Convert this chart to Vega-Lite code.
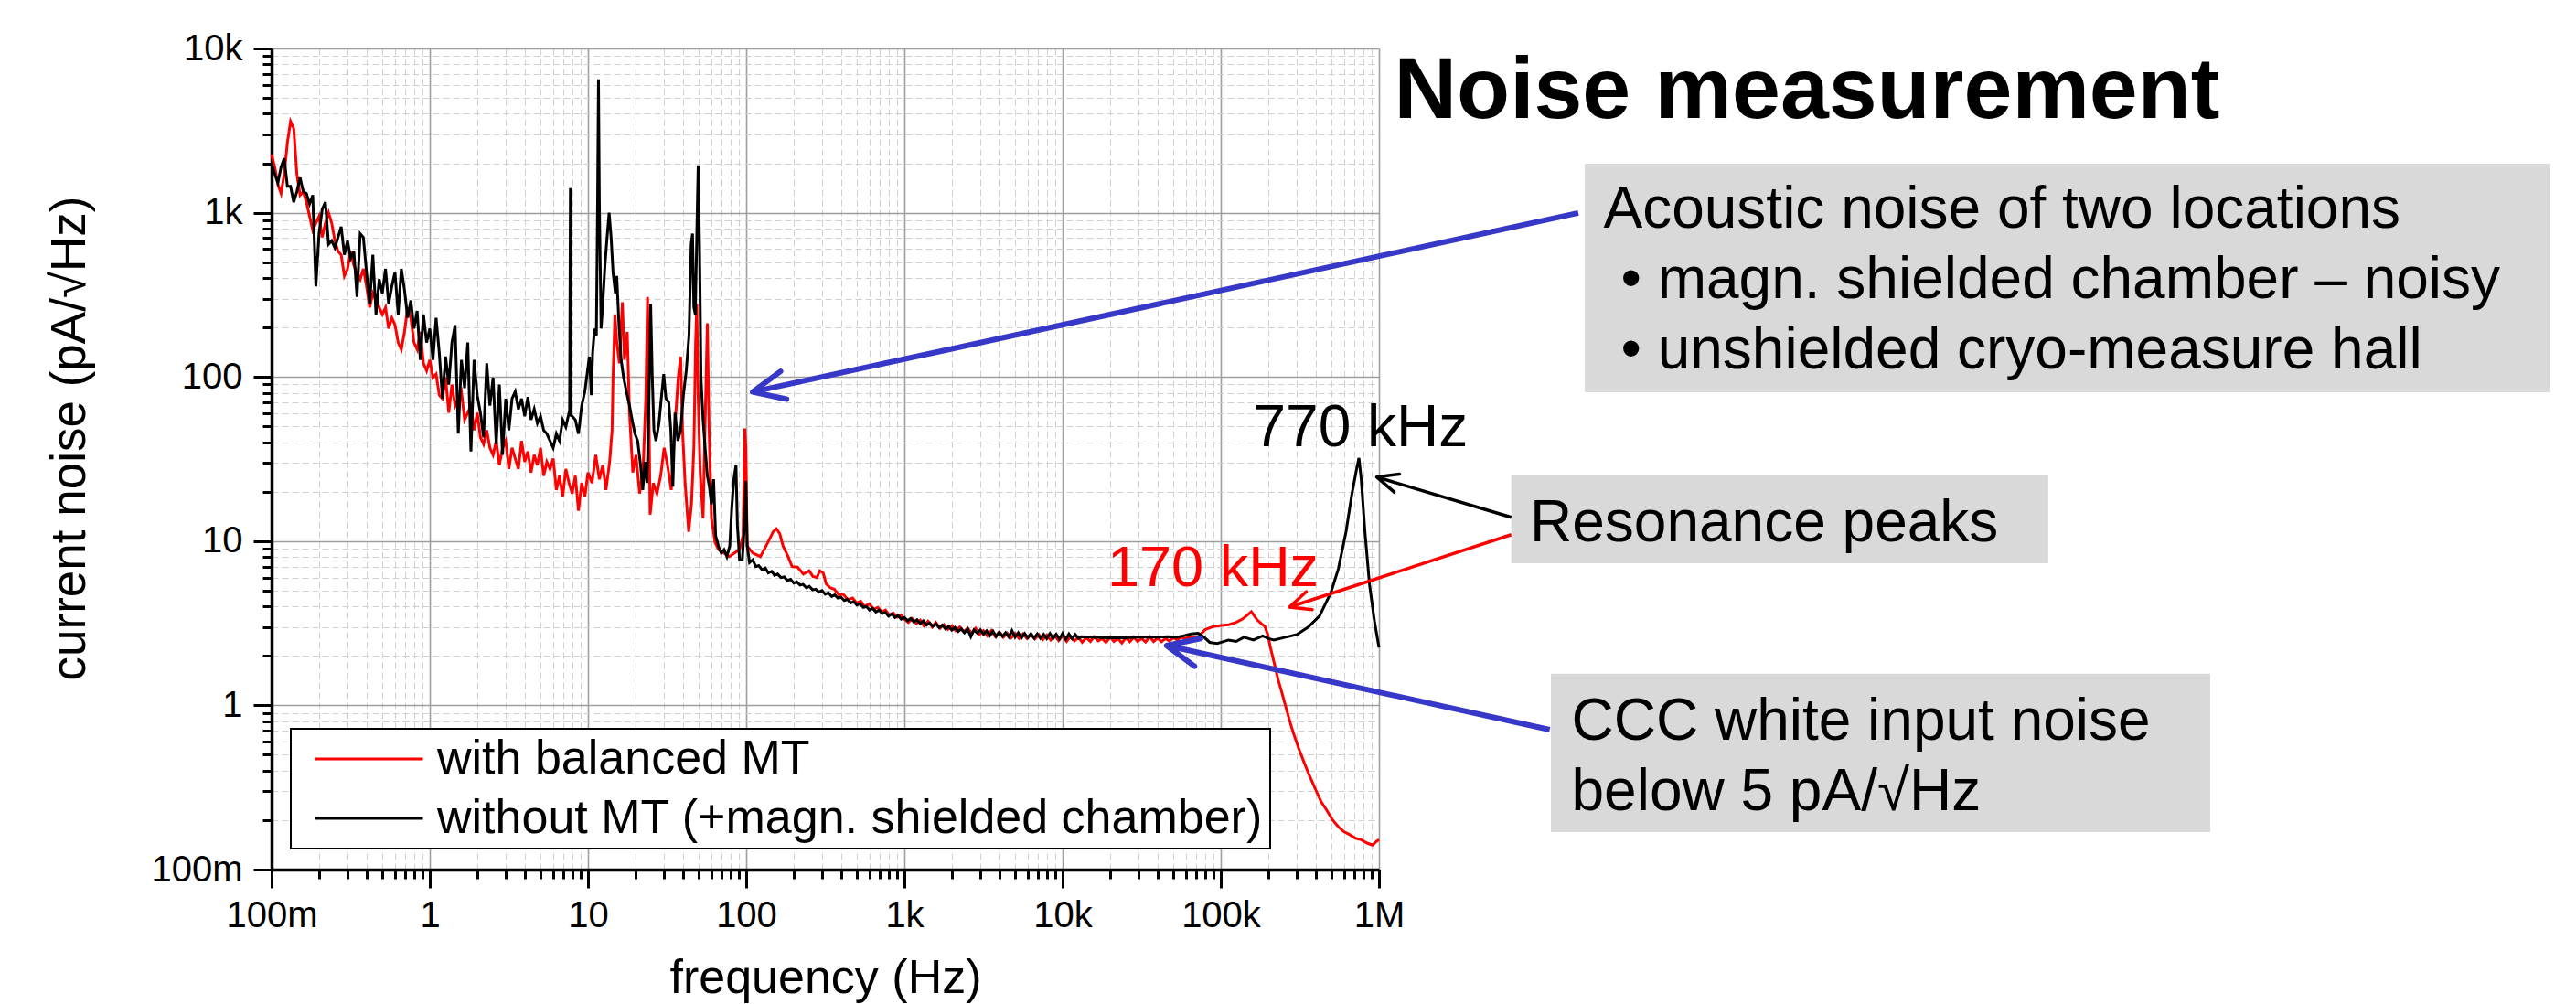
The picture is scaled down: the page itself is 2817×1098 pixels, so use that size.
{
  "$schema": "https://vega.github.io/schema/vega-lite/v6.json",
  "width": 1211,
  "height": 898,
  "autosize": {"type": "none"},
  "padding": {"left": 297, "top": 53, "right": 1309, "bottom": 147},
  "background": "white",
  "config": {"font": "Liberation Sans", "view": {"stroke": null}, "legend": {"strokeWidth": 2}},
  "datasets": {
    "balanced": [
      {"f":0.1,"n":2253},{"f":0.1047,"n":1897},{"f":0.1096,"n":1483},{"f":0.1148,"n":1310},{"f":0.1202,"n":1718},{"f":0.1259,"n":2675},{"f":0.1318,"n":3594},{"f":0.138,"n":3258},{"f":0.1445,"n":1718},{"f":0.1514,"n":1279},{"f":0.1585,"n":1343},{"f":0.166,"n":1159},{"f":0.1738,"n":952},{"f":0.182,"n":782},{"f":0.1905,"n":863},{"f":0.1995,"n":952},{"f":0.2089,"n":708},{"f":0.2188,"n":863},{"f":0.2291,"n":1000},{"f":0.2399,"n":863},{"f":0.2512,"n":675},{"f":0.263,"n":582},{"f":0.2754,"n":554},{"f":0.2884,"n":412},{"f":0.302,"n":455},{"f":0.3162,"n":582},{"f":0.3311,"n":478},{"f":0.3467,"n":433},{"f":0.3631,"n":393},{"f":0.3802,"n":455},{"f":0.3981,"n":356},{"f":0.4169,"n":265},{"f":0.4365,"n":323},{"f":0.4571,"n":292},{"f":0.4786,"n":265},{"f":0.5012,"n":240},{"f":0.5248,"n":265},{"f":0.5495,"n":197},{"f":0.5754,"n":229},{"f":0.6026,"n":207},{"f":0.631,"n":162},{"f":0.6607,"n":147},{"f":0.6918,"n":188},{"f":0.7244,"n":265},{"f":0.7586,"n":229},{"f":0.7943,"n":162},{"f":0.8318,"n":147},{"f":0.871,"n":188},{"f":0.912,"n":121},{"f":0.955,"n":109},{"f":1.0,"n":127},{"f":1.047,"n":99},{"f":1.096,"n":104},{"f":1.148,"n":77.4},{"f":1.202,"n":73.7},{"f":1.259,"n":99},{"f":1.318,"n":60.5},{"f":1.38,"n":89.8},{"f":1.445,"n":66.8},{"f":1.514,"n":73.7},{"f":1.585,"n":81.3},{"f":1.66,"n":54.8},{"f":1.738,"n":60.5},{"f":1.82,"n":66.8},{"f":1.905,"n":47.3},{"f":1.995,"n":60.5},{"f":2.089,"n":42.9},{"f":2.188,"n":38.9},{"f":2.291,"n":47.3},{"f":2.399,"n":37.0},{"f":2.512,"n":33.5},{"f":2.63,"n":40.8},{"f":2.754,"n":29.0},{"f":2.884,"n":37.0},{"f":3.02,"n":40.8},{"f":3.162,"n":27.5},{"f":3.311,"n":37.0},{"f":3.467,"n":31.9},{"f":3.631,"n":27.5},{"f":3.802,"n":40.8},{"f":3.981,"n":30.4},{"f":4.169,"n":35.2},{"f":4.365,"n":26.2},{"f":4.571,"n":33.5},{"f":4.786,"n":29.0},{"f":5.012,"n":37.0},{"f":5.248,"n":25.0},{"f":5.495,"n":30.4},{"f":5.754,"n":27.5},{"f":6.026,"n":31.9},{"f":6.31,"n":20.5},{"f":6.607,"n":25.0},{"f":6.918,"n":18.6},{"f":7.244,"n":27.5},{"f":7.586,"n":22.6},{"f":7.943,"n":19.5},{"f":8.318,"n":25.0},{"f":8.71,"n":15.3},{"f":9.12,"n":22.6},{"f":9.55,"n":18.6},
      {"f":10.0,"n":26.2},{"f":10.6,"n":22.6},{"f":11.2,"n":33.5},{"f":11.8,"n":23.8},{"f":12.4,"n":29.0},{"f":13.0,"n":20.5},{"f":13.7,"n":30.4},{"f":14.2,"n":47.3},{"f":14.4,"n":99},{"f":14.8,"n":240},{"f":15.2,"n":162},{"f":15.8,"n":121},{"f":16.5,"n":285},{"f":17.0,"n":127},{"f":17.7,"n":188},{"f":18.3,"n":60.5},{"f":19.2,"n":26.2},{"f":20.1,"n":33.5},{"f":21.2,"n":19.5},{"f":22.3,"n":27.5},{"f":23.2,"n":73.7},{"f":23.8,"n":307},{"f":24.3,"n":60.5},{"f":24.7,"n":14.5},{"f":25.9,"n":22.6},{"f":27.3,"n":19.5},{"f":28.8,"n":25.0},{"f":30.3,"n":37.0},{"f":31.8,"n":29.0},{"f":33.6,"n":20.5},{"f":35.3,"n":47.3},{"f":37.2,"n":99},{"f":38.5,"n":133},{"f":39.6,"n":47.3},{"f":41.1,"n":22.6},{"f":43.3,"n":11.4},{"f":45.1,"n":16.8},{"f":46.7,"n":37.0},{"f":47.9,"n":162},{"f":48.7,"n":278},{"f":49.7,"n":77.4},{"f":51.2,"n":26.2},{"f":53.4,"n":13.8},{"f":55.2,"n":60.5},{"f":56.8,"n":212},{"f":58.3,"n":47.3},{"f":60.3,"n":13.8},{"f":63.6,"n":9.8},{"f":66.8,"n":8.88},{"f":72.2,"n":8.46},{"f":78.3,"n":8.05},{"f":84.4,"n":8.46},{"f":90.8,"n":8.88},{"f":95.5,"n":10.8},{"f":97.9,"n":48.5},{"f":99.5,"n":37.0},{"f":101.5,"n":9.33},{"f":110,"n":8.46},{"f":123,"n":8.05},{"f":137,"n":9.8},{"f":148,"n":11.4},{"f":155,"n":11.9},{"f":163,"n":11.1},{"f":171,"n":9.33},{"f":184,"n":8.05},{"f":195,"n":7.0},{"f":211,"n":6.95},{"f":230,"n":6.3},{"f":250,"n":6.6},{"f":264,"n":6.1},{"f":280,"n":6.0},{"f":292,"n":6.6},{"f":307,"n":6.4},{"f":320,"n":5.5},{"f":340,"n":5.2},{"f":360,"n":5.1},{"f":386,"n":4.7},{"f":410,"n":4.75},{"f":440,"n":4.4},{"f":470,"n":4.5},{"f":500,"n":4.2},{"f":530,"n":4.3},{"f":560,"n":4.0},{"f":600,"n":4.15},{"f":640,"n":3.85},{"f":680,"n":3.95},{"f":720,"n":3.7},{"f":760,"n":3.8},{"f":800,"n":3.55},{"f":850,"n":3.65},{"f":900,"n":3.45},{"f":950,"n":3.55},{"f":1000,"n":3.35},{"f":1060,"n":3.2},{"f":1120,"n":3.38},{"f":1190,"n":3.15},{"f":1260,"n":3.3},{"f":1330,"n":3.05},{"f":1410,"n":3.25},{"f":1500,"n":3.0},{"f":1580,"n":3.2},{"f":1680,"n":2.95},{"f":1780,"n":3.1},{"f":1880,"n":2.9},{"f":2000,"n":3.05},{"f":2110,"n":2.85},{"f":2240,"n":3.0},{"f":2370,"n":2.8},{"f":2510,"n":2.95},{"f":2660,"n":2.75},{"f":2820,"n":2.95},{"f":2980,"n":2.7},{"f":3160,"n":2.85},{"f":3350,"n":2.65},{"f":3550,"n":2.85},{"f":3760,"n":2.62},{"f":3980,"n":2.8},{"f":4220,"n":2.6},{"f":4470,"n":2.75},{"f":4730,"n":2.58},{"f":5010,"n":2.75},{"f":5310,"n":2.56},{"f":5620,"n":2.72},{"f":5960,"n":2.55},{"f":6310,"n":2.7},{"f":6680,"n":2.54},{"f":7080,"n":2.7},{"f":7500,"n":2.52},{"f":7940,"n":2.68},{"f":8410,"n":2.5},{"f":8910,"n":2.66},{"f":9440,"n":2.48},{"f":10000,"n":2.66},{"f":10600,"n":2.45},{"f":11200,"n":2.62},{"f":11900,"n":2.47},{"f":12600,"n":2.6},{"f":13300,"n":2.42},{"f":14100,"n":2.58},{"f":15000,"n":2.45},{"f":15800,"n":2.62},{"f":16800,"n":2.47},{"f":17800,"n":2.55},{"f":18800,"n":2.42},{"f":20000,"n":2.6},{"f":21100,"n":2.45},{"f":22400,"n":2.55},{"f":23700,"n":2.4},{"f":25100,"n":2.58},{"f":26600,"n":2.44},{"f":28200,"n":2.6},{"f":29800,"n":2.45},{"f":31600,"n":2.55},{"f":33500,"n":2.43},{"f":35500,"n":2.62},{"f":37600,"n":2.45},{"f":39800,"n":2.57},{"f":42200,"n":2.44},{"f":44700,"n":2.55},{"f":47300,"n":2.47},{"f":50100,"n":2.58},{"f":53100,"n":2.5},{"f":56200,"n":2.6},{"f":59600,"n":2.55},{"f":63100,"n":2.62},{"f":66800,"n":2.6},{"f":72000,"n":2.62},{"f":80000,"n":2.9},{"f":90000,"n":3.02},{"f":100000,"n":3.07},{"f":112000,"n":3.1},{"f":125000,"n":3.2},{"f":137000,"n":3.35},{"f":148000,"n":3.56},{"f":156000,"n":3.72},{"f":163000,"n":3.5},{"f":170000,"n":3.31},{"f":180000,"n":3.15},{"f":190000,"n":3.02},{"f":198000,"n":2.7},{"f":206000,"n":2.25},{"f":218000,"n":1.8},{"f":230000,"n":1.44},{"f":243000,"n":1.2},{"f":256000,"n":1.0},{"f":270000,"n":0.83},{"f":286000,"n":0.69},{"f":310000,"n":0.55},{"f":338000,"n":0.443},{"f":365000,"n":0.37},{"f":398000,"n":0.306},{"f":430000,"n":0.26},{"f":470000,"n":0.228},{"f":510000,"n":0.2},{"f":554000,"n":0.182},{"f":600000,"n":0.17},{"f":654000,"n":0.163},{"f":710000,"n":0.155},{"f":772000,"n":0.152},{"f":840000,"n":0.145},{"f":910000,"n":0.141},{"f":960000,"n":0.148},{"f":1000000,"n":0.152}
    ],
    "unshielded": [
      {"f":0.1,"n":1990},{"f":0.1047,"n":1718},{"f":0.1096,"n":1520},{"f":0.1148,"n":1897},{"f":0.1202,"n":2144},{"f":0.1259,"n":1446},{"f":0.1318,"n":1446},{"f":0.138,"n":1159},{"f":0.1445,"n":1343},{"f":0.1514,"n":1636},{"f":0.1585,"n":1343},{"f":0.166,"n":1310},{"f":0.1738,"n":1130},{"f":0.182,"n":1279},{"f":0.1905,"n":356},{"f":0.1995,"n":745},{"f":0.2089,"n":1050},{"f":0.2188,"n":1159},{"f":0.2291,"n":642},{"f":0.2399,"n":675},{"f":0.2512,"n":611},{"f":0.263,"n":708},{"f":0.2754,"n":822},{"f":0.2884,"n":554},{"f":0.302,"n":675},{"f":0.3162,"n":527},{"f":0.3311,"n":582},{"f":0.3467,"n":307},{"f":0.3631,"n":745},{"f":0.3802,"n":708},{"f":0.3981,"n":433},{"f":0.4169,"n":278},{"f":0.4365,"n":554},{"f":0.4571,"n":240},{"f":0.4786,"n":393},{"f":0.5012,"n":323},{"f":0.5248,"n":455},{"f":0.5495,"n":278},{"f":0.5754,"n":356},{"f":0.6026,"n":433},{"f":0.631,"n":240},{"f":0.6607,"n":455},{"f":0.6918,"n":339},{"f":0.7244,"n":229},{"f":0.7586,"n":292},{"f":0.7943,"n":197},{"f":0.8318,"n":252},{"f":0.871,"n":127},{"f":0.912,"n":240},{"f":0.955,"n":162},{"f":1.0,"n":197},{"f":1.047,"n":127},{"f":1.096,"n":229},{"f":1.148,"n":140},{"f":1.202,"n":73.7},{"f":1.259,"n":133},{"f":1.318,"n":89.8},{"f":1.38,"n":162},{"f":1.445,"n":207},{"f":1.514,"n":45.1},{"f":1.585,"n":127},{"f":1.66,"n":85.5},{"f":1.738,"n":162},{"f":1.82,"n":35.2},{"f":1.905,"n":127},{"f":1.995,"n":77.4},{"f":2.089,"n":60.5},{"f":2.188,"n":42.9},{"f":2.291,"n":121},{"f":2.399,"n":66.8},{"f":2.512,"n":99},{"f":2.63,"n":38.9},{"f":2.754,"n":89.8},{"f":2.884,"n":33.5},{"f":3.02,"n":73.7},{"f":3.162,"n":47.3},{"f":3.311,"n":73.7},{"f":3.467,"n":81.3},{"f":3.631,"n":63.6},{"f":3.802,"n":73.7},{"f":3.981,"n":57.6},{"f":4.169,"n":75.5},{"f":4.365,"n":54.8},{"f":4.571,"n":63.6},{"f":4.786,"n":52.2},{"f":5.012,"n":57.6},{"f":5.248,"n":47.3},{"f":5.495,"n":45.1},{"f":5.754,"n":40.8},{"f":6.026,"n":37.0},{"f":6.31,"n":45.1},{"f":6.607,"n":40.8},{"f":6.918,"n":54.8},{"f":7.244,"n":49.7},{"f":7.586,"n":60.5},{"f":7.65,"n":62},{"f":7.74,"n":1413},{"f":7.83,"n":58},{"f":7.943,"n":57.6},{"f":8.318,"n":54.8},{"f":8.71,"n":45.1},{"f":9.12,"n":66.8},{"f":9.55,"n":81.3},
      {"f":10.2,"n":133},{"f":10.5,"n":77.4},{"f":10.7,"n":140},{"f":11.0,"n":197},{"f":11.3,"n":179},{"f":11.5,"n":1159},{"f":11.65,"n":6490},{"f":11.8,"n":1159},{"f":12.1,"n":197},{"f":12.4,"n":278},{"f":12.8,"n":478},{"f":13.2,"n":708},{"f":13.6,"n":1000},{"f":14.0,"n":708},{"f":14.4,"n":433},{"f":14.9,"n":323},{"f":15.2,"n":412},{"f":15.7,"n":207},{"f":16.2,"n":127},{"f":16.8,"n":99},{"f":17.5,"n":81.3},{"f":18.3,"n":66.8},{"f":19.0,"n":54.8},{"f":19.8,"n":45.1},{"f":20.6,"n":40.8},{"f":21.5,"n":29.0},{"f":22.2,"n":20.5},{"f":22.9,"n":30.4},{"f":23.6,"n":22.6},{"f":24.3,"n":73.7},{"f":24.9,"n":278},{"f":25.5,"n":99},{"f":26.1,"n":47.3},{"f":26.9,"n":40.8},{"f":28.1,"n":52.2},{"f":29.2,"n":77.4},{"f":30.1,"n":104},{"f":31.1,"n":73.7},{"f":32.4,"n":70.2},{"f":33.4,"n":47.3},{"f":34.4,"n":21.5},{"f":35.5,"n":60.5},{"f":37.0,"n":40.8},{"f":38.5,"n":47.3},{"f":40.1,"n":77.4},{"f":41.8,"n":109},{"f":43.5,"n":179},{"f":44.9,"n":642},{"f":45.8,"n":745},{"f":46.7,"n":265},{"f":47.7,"n":240},{"f":48.7,"n":708},{"f":49.7,"n":1942},{"f":50.7,"n":642},{"f":51.8,"n":99},{"f":53.4,"n":54.8},{"f":55.0,"n":37.0},{"f":56.8,"n":25.0},{"f":58.5,"n":21.5},{"f":60.3,"n":16.8},{"f":62.2,"n":23.8},{"f":64.1,"n":10.8},{"f":66.8,"n":9.33},{"f":69.6,"n":8.46},{"f":72.5,"n":8.88},{"f":75.5,"n":8.05},{"f":78.7,"n":9.33},{"f":81.1,"n":16.0},{"f":83.6,"n":23.8},{"f":86.2,"n":29.0},{"f":88.0,"n":12.5},{"f":90.8,"n":7.67},{"f":94.5,"n":7.67},{"f":97.5,"n":12.5},{"f":99.5,"n":23.2},{"f":101.5,"n":9.33},{"f":105,"n":7.4},{"f":110,"n":7.7},{"f":115,"n":7.0},{"f":120,"n":7.1},{"f":126,"n":6.7},{"f":132,"n":6.85},{"f":138,"n":6.4},{"f":145,"n":6.55},{"f":151,"n":6.2},{"f":158,"n":6.3},{"f":166,"n":6.0},{"f":174,"n":6.05},{"f":182,"n":5.75},{"f":191,"n":5.85},{"f":200,"n":5.55},{"f":209,"n":5.65},{"f":219,"n":5.4},{"f":229,"n":5.45},{"f":240,"n":5.2},{"f":251,"n":5.3},{"f":263,"n":5.05},{"f":275,"n":5.1},{"f":288,"n":4.9},{"f":302,"n":5.0},{"f":316,"n":4.75},{"f":331,"n":4.85},{"f":347,"n":4.6},{"f":363,"n":4.7},{"f":380,"n":4.5},{"f":398,"n":4.55},{"f":417,"n":4.35},{"f":437,"n":4.42},{"f":457,"n":4.2},{"f":479,"n":4.28},{"f":501,"n":4.08},{"f":525,"n":4.15},{"f":550,"n":3.95},{"f":575,"n":4.0},{"f":603,"n":3.8},{"f":631,"n":3.9},{"f":661,"n":3.7},{"f":692,"n":3.8},{"f":724,"n":3.62},{"f":759,"n":3.68},{"f":794,"n":3.5},{"f":832,"n":3.6},{"f":871,"n":3.43},{"f":912,"n":3.52},{"f":955,"n":3.35},{"f":1000,"n":3.43},{"f":1047,"n":3.28},{"f":1096,"n":3.38},{"f":1148,"n":3.22},{"f":1202,"n":3.32},{"f":1259,"n":3.14},{"f":1318,"n":3.27},{"f":1380,"n":3.08},{"f":1445,"n":3.18},{"f":1514,"n":3.03},{"f":1585,"n":3.13},{"f":1660,"n":2.97},{"f":1738,"n":3.08},{"f":1820,"n":2.92},{"f":1905,"n":3.03},{"f":1995,"n":2.87},{"f":2089,"n":2.98},{"f":2188,"n":2.82},{"f":2291,"n":2.93},{"f":2399,"n":2.77},{"f":2512,"n":2.92},{"f":2630,"n":2.62},{"f":2754,"n":2.88},{"f":2884,"n":2.76},{"f":3020,"n":2.88},{"f":3162,"n":2.71},{"f":3311,"n":2.84},{"f":3467,"n":2.66},{"f":3631,"n":2.83},{"f":3802,"n":2.63},{"f":3981,"n":2.79},{"f":4169,"n":2.63},{"f":4365,"n":2.77},{"f":4571,"n":2.61},{"f":4786,"n":2.85},{"f":5012,"n":2.6},{"f":5248,"n":2.77},{"f":5495,"n":2.58},{"f":5754,"n":2.74},{"f":6026,"n":2.58},{"f":6310,"n":2.73},{"f":6607,"n":2.57},{"f":6918,"n":2.72},{"f":7244,"n":2.56},{"f":7586,"n":2.71},{"f":7943,"n":2.55},{"f":8318,"n":2.74},{"f":8710,"n":2.55},{"f":9120,"n":2.71},{"f":9550,"n":2.54},{"f":10000,"n":2.74},{"f":10470,"n":2.53},{"f":10960,"n":2.72},{"f":11480,"n":2.55},{"f":12020,"n":2.7},{"f":12590,"n":2.56},{"f":13180,"n":2.62},{"f":15000,"n":2.6},{"f":20000,"n":2.58},{"f":25000,"n":2.58},{"f":30000,"n":2.6},{"f":35000,"n":2.6},{"f":40000,"n":2.6},{"f":46000,"n":2.62},{"f":52000,"n":2.6},{"f":58000,"n":2.65},{"f":65000,"n":2.72},{"f":72000,"n":2.75},{"f":78500,"n":2.6},{"f":85000,"n":2.42},{"f":95000,"n":2.38},{"f":112000,"n":2.5},{"f":125000,"n":2.45},{"f":140000,"n":2.6},{"f":161000,"n":2.5},{"f":184000,"n":2.65},{"f":200000,"n":2.55},{"f":217000,"n":2.5},{"f":256000,"n":2.6},{"f":303000,"n":2.7},{"f":357000,"n":3.0},{"f":421000,"n":3.5},{"f":497000,"n":4.87},{"f":554000,"n":6.8},{"f":619000,"n":11.4},{"f":673000,"n":19.2},{"f":723000,"n":27.7},{"f":747000,"n":32.1},{"f":772000,"n":23.9},{"f":815000,"n":11.4},{"f":871000,"n":5.45},{"f":936000,"n":3.26},{"f":1000000,"n":2.25}
    ]
  },
  "layer": [
    {
      "data": {"name": "balanced"},
      "mark": {"type": "line", "strokeWidth": 3},
      "encoding": {
        "x": {
          "field": "f", "type": "quantitative",
          "scale": {"type": "log", "domain": [0.1, 1000000], "nice": false},
          "axis": {
            "values": [0.1,0.2,0.3,0.4,0.5,0.6,0.7,0.8,0.9,1,2,3,4,5,6,7,8,9,10,20,30,40,50,60,70,80,90,100,200,300,400,500,600,700,800,900,1000,2000,3000,4000,5000,6000,7000,8000,9000,10000,20000,30000,40000,50000,60000,70000,80000,90000,100000,200000,300000,400000,500000,600000,700000,800000,900000,1000000],
            "labelExpr": "abs(log(datum.value)/LN10 - round(log(datum.value)/LN10)) < 0.01 ? format(datum.value, '~s') : ''",
            "title": "frequency (Hz)",
            "titleFontSize": 52, "titleFontWeight": "normal", "titleColor": "black",
            "titleBaseline": "alphabetic", "titleY": 134,
            "labelFontSize": 40, "labelColor": "black", "labelPadding": 10,
            "labelFlush": false, "labelOverlap": false, "labelBound": false,
            "tickSize": {"condition": {"test": "abs(log(datum.value)/LN10 - round(log(datum.value)/LN10)) < 0.01", "value": 20}, "value": 10},
            "tickWidth": 3, "tickColor": "black",
            "domainColor": "black", "domainWidth": 3.5,
            "grid": true,
            "gridColor": {"condition": {"test": "abs(log(datum.value)/LN10 - round(log(datum.value)/LN10)) < 0.01", "value": "#9e9e9e"}, "value": "#d0d0d0"},
            "gridDash": {"condition": {"test": "abs(log(datum.value)/LN10 - round(log(datum.value)/LN10)) < 0.01", "value": []}, "value": [7, 4]},
            "gridWidth": {"condition": {"test": "abs(log(datum.value)/LN10 - round(log(datum.value)/LN10)) < 0.01", "value": 1.6}, "value": 1}
          }
        },
        "y": {
          "field": "n", "type": "quantitative",
          "scale": {"type": "log", "domain": [0.1, 10000], "nice": false},
          "axis": {
            "values": [0.1,0.2,0.3,0.4,0.5,0.6,0.7,0.8,0.9,1,2,3,4,5,6,7,8,9,10,20,30,40,50,60,70,80,90,100,200,300,400,500,600,700,800,900,1000,2000,3000,4000,5000,6000,7000,8000,9000,10000],
            "labelExpr": "abs(log(datum.value)/LN10 - round(log(datum.value)/LN10)) < 0.01 ? format(datum.value, '~s') : ''",
            "title": "current noise (pA/√Hz)",
            "titleFontSize": 53, "titleFontWeight": "normal", "titleColor": "black",
            "titleBaseline": "alphabetic", "titleAngle": -90, "titleAlign": "center",
            "titleX": -205, "titleY": 426,
            "labelFontSize": 40, "labelColor": "black", "labelPadding": 12,
            "labelFlush": false, "labelOverlap": false, "labelBound": false,
            "tickSize": {"condition": {"test": "abs(log(datum.value)/LN10 - round(log(datum.value)/LN10)) < 0.01", "value": 20}, "value": 10},
            "tickWidth": 3, "tickColor": "black",
            "domainColor": "black", "domainWidth": 3.5,
            "grid": true,
            "gridColor": {"condition": {"test": "abs(log(datum.value)/LN10 - round(log(datum.value)/LN10)) < 0.01", "value": "#9e9e9e"}, "value": "#d0d0d0"},
            "gridDash": {"condition": {"test": "abs(log(datum.value)/LN10 - round(log(datum.value)/LN10)) < 0.01", "value": []}, "value": [7, 4]},
            "gridWidth": {"condition": {"test": "abs(log(datum.value)/LN10 - round(log(datum.value)/LN10)) < 0.01", "value": 1.6}, "value": 1}
          }
        },
        "color": {
          "datum": "with balanced MT", "type": "nominal",
          "scale": {"domain": ["with balanced MT", "without MT (+magn. shielded chamber)"], "range": ["#ff0000", "#000000"]},
          "legend": {"orient": "none", "legendX": 21, "legendY": 744, "title": null, "direction": "vertical",
            "labelFontSize": 52, "labelColor": "black", "labelLimit": 3000, "labelOffset": 98,
            "symbolType": "M-0.31,0H4.23", "symbolSize": 2704, "symbolStrokeWidth": 3,
            "clipHeight": 52, "rowPadding": 13, "padding": 7,
            "fillColor": "white", "strokeColor": "black"}
        }
      }
    },
    {
      "data": {"name": "unshielded"},
      "mark": {"type": "line", "strokeWidth": 3},
      "encoding": {
        "x": {"field": "f", "type": "quantitative", "title": "frequency (Hz)", "scale": {"type": "log", "domain": [0.1, 1000000], "nice": false}},
        "y": {"field": "n", "type": "quantitative", "title": "current noise (pA/√Hz)", "scale": {"type": "log", "domain": [0.1, 10000], "nice": false}},
        "color": {
          "datum": "without MT (+magn. shielded chamber)", "type": "nominal",
          "scale": {"domain": ["with balanced MT", "without MT (+magn. shielded chamber)"], "range": ["#ff0000", "#000000"]}
        }
      }
    },
    {
      "data": {"values": [{}]},
      "mark": {"type": "rect", "color": "#d9d9d9"},
      "encoding": {"x": {"datum": 20000000}, "x2": {"datum": 25400000000000}, "y": {"datum": 1988}, "y2": {"datum": 80.6}}
    },
    {
      "data": {"values": [{}]},
      "mark": {"type": "rect", "color": "#d9d9d9"},
      "encoding": {"x": {"datum": 6862000}, "x2": {"datum": 17000000000}, "y": {"datum": 25.1}, "y2": {"datum": 7.335}}
    },
    {
      "data": {"values": [{}]},
      "mark": {"type": "rect", "color": "#d9d9d9"},
      "encoding": {"x": {"datum": 12210000}, "x2": {"datum": 179600000000}, "y": {"datum": 1.56}, "y2": {"datum": 0.1692}}
    },
    {
      "data": {"values": [{}]},
      "mark": {"type": "text", "text": "Noise measurement", "fontSize": 95, "fontWeight": "bold", "align": "left", "baseline": "alphabetic", "color": "black"},
      "encoding": {"x": {"datum": 1245500}, "y": {"datum": 3751}}
    },
    {
      "data": {"values": [{}]},
      "mark": {"type": "text", "text": "Acoustic noise of two locations", "fontSize": 64, "align": "left", "baseline": "alphabetic", "color": "black"},
      "encoding": {"x": {"datum": 26240000}, "y": {"datum": 814.5}}
    },
    {
      "data": {"values": [{}]},
      "mark": {"type": "text", "text": ["• magn. shielded chamber – noisy", "• unshielded cryo-measure hall"], "fontSize": 64, "lineHeight": 77, "dx": 19, "align": "left", "baseline": "alphabetic", "color": "black"},
      "encoding": {"x": {"datum": 26240000}, "y": {"datum": 303.6}}
    },
    {
      "data": {"values": [{}]},
      "mark": {"type": "text", "text": "Resonance peaks", "fontSize": 64, "align": "left", "baseline": "alphabetic", "color": "black"},
      "encoding": {"x": {"datum": 8990000}, "y": {"datum": 10.01}}
    },
    {
      "data": {"values": [{}]},
      "mark": {"type": "text", "text": ["CCC white input noise", "below 5 pA/√Hz"], "fontSize": 64, "lineHeight": 77, "align": "left", "baseline": "alphabetic", "color": "black"},
      "encoding": {"x": {"datum": 16470000}, "y": {"datum": 0.6193}}
    },
    {
      "data": {"values": [{}]},
      "mark": {"type": "text", "text": "770 kHz", "fontSize": 64, "align": "left", "baseline": "alphabetic", "color": "black"},
      "encoding": {"x": {"datum": 160400}, "y": {"datum": 37.84}}
    },
    {
      "data": {"values": [{}]},
      "mark": {"type": "text", "text": "170 kHz", "fontSize": 63, "align": "left", "baseline": "alphabetic", "color": "#ff0000"},
      "encoding": {"x": {"datum": 19200}, "y": {"datum": 5.343}}
    },
    {
      "data": {"values": [{}]},
      "mark": {"type": "rule", "color": "#3838c8", "strokeWidth": 6},
      "encoding": {"x": {"datum": 18200000}, "y": {"datum": 996}, "x2": {"datum": 109.8}, "y2": {"datum": 81.0}}
    },
    {
      "data": {"values": [{}]},
      "mark": {"type": "point", "shape": "M-1,-0.45L0,0L-1,0.45", "size": 4790, "angle": 167.8, "filled": false, "color": "#3838c8", "strokeWidth": 6, "opacity": 1, "strokeJoin": "round", "strokeCap": "round"},
      "encoding": {"x": {"datum": 109.8}, "y": {"datum": 81.0}}
    },
    {
      "data": {"values": [{}]},
      "mark": {"type": "rule", "color": "#000000", "strokeWidth": 3.5},
      "encoding": {"x": {"datum": 6862000}, "y": {"datum": 13.96}, "x2": {"datum": 968000}, "y2": {"datum": 24.57}}
    },
    {
      "data": {"values": [{}]},
      "mark": {"type": "point", "shape": "M-1,-0.45L0,0L-1,0.45", "size": 2100, "angle": 196.7, "filled": false, "color": "#000000", "strokeWidth": 3.5, "opacity": 1, "strokeJoin": "round", "strokeCap": "round"},
      "encoding": {"x": {"datum": 968000}, "y": {"datum": 24.57}}
    },
    {
      "data": {"values": [{}]},
      "mark": {"type": "rule", "color": "#ff0000", "strokeWidth": 3.5},
      "encoding": {"x": {"datum": 6862000}, "y": {"datum": 10.95}, "x2": {"datum": 271400}, "y2": {"datum": 3.963}}
    },
    {
      "data": {"values": [{}]},
      "mark": {"type": "point", "shape": "M-1,-0.45L0,0L-1,0.45", "size": 2100, "angle": 161.9, "filled": false, "color": "#ff0000", "strokeWidth": 3.5, "opacity": 1, "strokeJoin": "round", "strokeCap": "round"},
      "encoding": {"x": {"datum": 271400}, "y": {"datum": 3.963}}
    },
    {
      "data": {"values": [{}]},
      "mark": {"type": "rule", "color": "#3838c8", "strokeWidth": 6},
      "encoding": {"x": {"datum": 12000000}, "y": {"datum": 0.711}, "x2": {"datum": 45470}, "y2": {"datum": 2.312}}
    },
    {
      "data": {"values": [{}]},
      "mark": {"type": "point", "shape": "M-1,-0.45L0,0L-1,0.45", "size": 4790, "angle": 192.4, "filled": false, "color": "#3838c8", "strokeWidth": 6, "opacity": 1, "strokeJoin": "round", "strokeCap": "round"},
      "encoding": {"x": {"datum": 45470}, "y": {"datum": 2.312}}
    }
  ]
}
